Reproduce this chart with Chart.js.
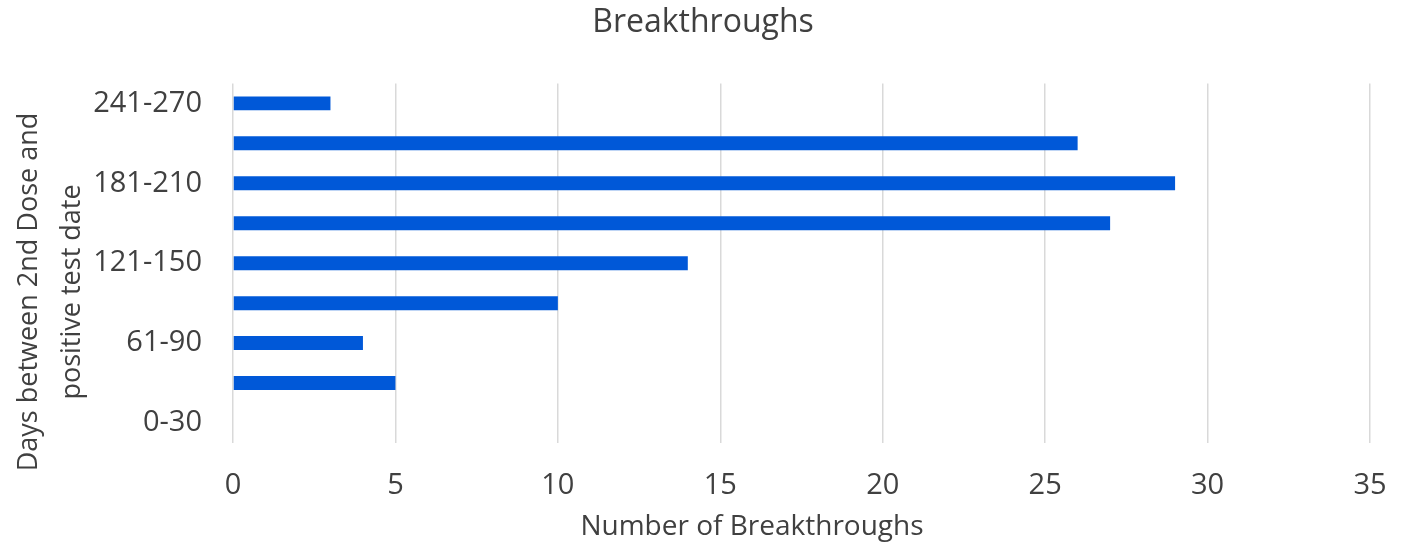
<!DOCTYPE html>
<html>
<head>
<meta charset="utf-8">
<script src="https://cdn.jsdelivr.net/npm/chart.js@4"></script>
<style>
      html, body { margin: 0; padding: 0; background: #fff; }
      #wrap { width: 1406px; height: 548px; }
</style>
</head>
<body>
<div id="wrap"><canvas id="breakthrough_chart"></canvas></div>
<script>
// day ranges, bottom to top
const categories = ['0-30', '31-60', '61-90', '91-120', '121-150', '151-180', '181-210', '211-240', '241-270'];
const breakthroughs = [0, 5, 4, 10, 14, 27, 29, 26, 3];
const xTicks = [0, 5, 10, 15, 20, 25, 30, 35];
const xTitle = 'Number of Breakthroughs';
const yTitleLines = ['Days between 2nd Dose and', 'positive test date'];

const textColor = '#404040';
const fontFamily = "'Open Sans', sans-serif";

// axis titles are placed like the original (not centred on the plot area)
const axisTitlePlugin = {
      id: 'axisTitles',
      afterDraw(chart)
      {
            const ctx = chart.ctx;
            ctx.save();
            ctx.fillStyle = textColor;
            ctx.textAlign = 'center';
            ctx.textBaseline = 'middle';

            ctx.font = '28px ' + fontFamily;
            ctx.fillText(xTitle, 752, 527);

            ctx.font = '27px ' + fontFamily;
            const xs = [29, 72];
            for (let i = 0; i < yTitleLines.length; i++)
            {
                  ctx.save();
                  ctx.translate(xs[i], 292);
                  ctx.rotate(-Math.PI / 2);
                  ctx.fillText(yTitleLines[i], 0, 0);
                  ctx.restore();
            }
            ctx.restore();
      }
};

const config = {
      type: 'bar',
      data: {
            labels: categories,
            datasets: [{
                  label: 'Breakthroughs',
                  data: breakthroughs,
                  backgroundColor: '#0058d8',
                  borderWidth: 0,
                  barPercentage: 0.35,
                  categoryPercentage: 1.0
            }]
      },
      options: {
            indexAxis: 'y',
            responsive: true,
            maintainAspectRatio: false,
            animation: false,
            layout: {
                  padding: 0
            },
            scales: {
                  x: {
                        min: 0,
                        max: 35,
                        afterBuildTicks: (scale) => { scale.ticks = xTicks.map(v => ({ value: v })); },
                        afterFit: (scale) =>
                        {
                              scale.height = 105;
                              scale.paddingLeft = 0;
                              scale.paddingRight = 36;
                        },
                        grid: {
                              color: '#d9d9d9',
                              lineWidth: 1.5,
                              drawTicks: false
                        },
                        border: { display: false },
                        ticks: {
                              padding: 25,
                              color: textColor,
                              font: { family: fontFamily, size: 29 }
                        }
                  },
                  y: {
                        reverse: true,
                        afterFit: (scale) => { scale.width = 233; },
                        grid: { display: false, drawTicks: false },
                        border: { display: false },
                        ticks: {
                              autoSkip: false,
                              padding: 31,
                              color: textColor,
                              font: { family: fontFamily, size: 29 },
                              callback: function (value, index)
                              {
                                    return index % 2 === 0 ? categories[index] : '';
                              }
                        }
                  }
            },
            plugins: {
                  legend: { display: false },
                  tooltip: { enabled: false },
                  title: {
                        display: true,
                        text: 'Breakthroughs',
                        color: textColor,
                        font: { family: fontFamily, size: 32, weight: 'normal' },
                        padding: { top: 4, bottom: 41 }
                  }
            }
      },
      plugins: [axisTitlePlugin]
};

new Chart(document.getElementById('breakthrough_chart'), config);
</script>
</body>
</html>
